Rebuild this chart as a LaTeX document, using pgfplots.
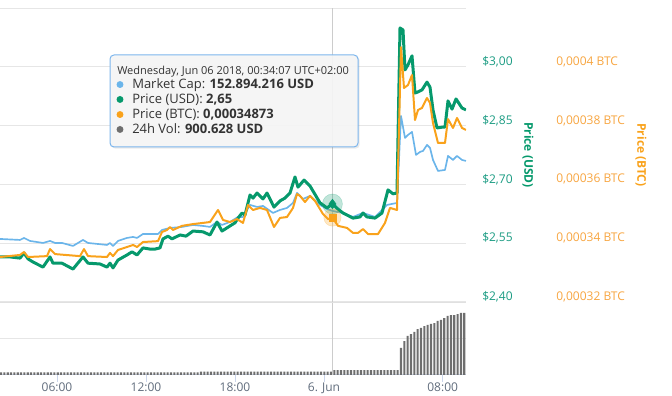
\documentclass[border=0pt]{standalone}
\usepackage{fontspec}
\setmainfont{Open Sans}
\usepackage{pgfplots}
\usepackage{pgfplotstable}
\pgfplotsset{compat=1.18}
\definecolor{usdgreen}{HTML}{06996C}
\definecolor{btcorange}{HTML}{F9A21B}
\definecolor{mcblue}{HTML}{6BB5EA}
\definecolor{volgray}{HTML}{6E6E6E}
\definecolor{gridc}{HTML}{E6E6E6}
\definecolor{sepc}{HTML}{E0E0E0}
\definecolor{axisc}{HTML}{CCD6EB}
\definecolor{ticklab}{HTML}{606C7C}
\definecolor{usdlab}{HTML}{1A9B82}
\definecolor{btclab}{HTML}{F7A540}
\definecolor{crossc}{HTML}{CCCCCC}
\definecolor{tipborder}{HTML}{7CB5EC}
\definecolor{tipfill}{HTML}{F7F7F7}
\definecolor{tiptext}{HTML}{333333}

\pgfplotstableread[row sep=\\]{v\\
0.75\\0.75\\0.75\\0.75\\0.75\\0.75\\0.75\\0.75\\0.75\\0.75\\
0.75\\0.75\\0.75\\0.75\\0.75\\0.75\\0.75\\0.75\\0.75\\0.75\\
0.75\\0.75\\0.75\\0.75\\0.75\\0.75\\0.75\\0.75\\0.75\\0.75\\
0.75\\0.75\\0.75\\0.75\\0.75\\0.75\\0.75\\0.75\\0.75\\0.75\\
0.75\\0.75\\0.75\\0.75\\0.75\\0.75\\0.75\\0.75\\0.75\\0.75\\
0.75\\0.75\\0.75\\0.75\\0.75\\0.75\\0.75\\0.75\\0.75\\0.75\\
0.9\\0.9\\0.9\\0.9\\0.9\\0.9\\0.9\\0.9\\0.9\\0.9\\
0.9\\0.9\\0.9\\0.9\\0.9\\0.9\\0.9\\0.9\\0.9\\0.9\\
0.9\\0.9\\0.9\\0.9\\0.9\\0.9\\0.9\\0.9\\0.9\\0.9\\
0.9\\0.9\\0.9\\0.9\\0.9\\0.9\\0.9\\0.9\\0.9\\0.9\\
1.35\\1.35\\1.35\\1.35\\1.35\\1.35\\1.35\\1.35\\1.35\\1.35\\
1.35\\1.35\\1.35\\1.35\\1.35\\1.35\\1.35\\1.35\\1.35\\1.35\\
7.4\\9.3\\10.7\\11.2\\11.8\\12.6\\12.9\\13.4\\13.7\\14.0\\
14.2\\14.8\\15.1\\15.6\\16.2\\16.4\\16.4\\16.7\\17.0\\17.0\\
}\voltab

\begin{document}
\begin{tikzpicture}
\pgfplotsset{
  base/.style={scale only axis, width=349.5pt, xmin=2.157, xmax=33.573, anchor=south west},
  price/.style={base, height=220.5pt, at={(0pt,70.5pt)}},
}

% ---- volume panel
\begin{axis}[base, height=54.75pt, at={(0pt,15.75pt)}, ymin=0, ymax=20,
  axis x line*=bottom, axis y line*=left,
  y axis line style={draw=none},
  x axis line style={draw=axisc, line width=0.75pt, -},
  xtick={6,12,18,24,32}, xticklabels={06:00,12:00,18:00,{6. Jun},08:00},
  xtick style={draw=axisc, line width=0.75pt}, tick align=outside, major tick length=5.25pt,
  ytick={10}, yticklabels={}, ytick style={draw=none},
  ymajorgrids, grid style={draw=gridc, line width=0.75pt},
  xticklabel style={font=\fontsize{9}{10}\selectfont, text=ticklab, yshift=2.6pt},
]
\addplot[ybar, bar width=1.6pt, fill=volgray, draw=none] table[x expr={2.226+0.2247*\coordindex}, y=v] {\voltab};
\addplot[crossc, line width=0.75pt] coordinates {(24.569,0) (24.569,20)};
\draw[sepc, line width=1.5pt] (rel axis cs:0,1) -- (rel axis cs:1,1);
\end{axis}

% ---- USD grid and labels
\begin{axis}[price, ymin=2.40, ymax=3.15,
  axis x line=none, axis y line*=right, y axis line style={draw=none},
  ytick={2.40,2.55,2.70,2.85,3.00,3.15},
  yticklabels={{\$2,40},{\$2,55},{\$2,70},{\$2,85},{\$3,00},{}},
  ytick style={draw=none}, major tick length=0pt,
  ymajorgrids, grid style={draw=gridc, line width=0.75pt},
  yticklabel style={anchor=west, inner sep=0pt, xshift=12pt, yshift=3.75pt, font=\fontsize{9}{10}\selectfont, text=usdlab},
  ylabel={Price (USD)},
  ylabel style={at={(rel axis cs:1.133,0.5)}, anchor=center, rotate=180, font=\bfseries\fontsize{9}{10}\selectfont, text=usdgreen},
]
\addplot[crossc, line width=0.75pt] coordinates {(24.569,2.40) (24.569,3.15)};
\end{axis}

% ---- market cap (hidden axis)
\begin{axis}[price, ymin=127.4, ymax=209.7, hide axis]
\addplot[mcblue, line width=1.25pt, line join=round] coordinates {
(2.157,145.05) (3.505,144.77) (3.775,145.33) (4.180,144.49) (5.056,143.93) (5.528,144.49) (5.865,143.93) (6.337,143.93) (7.078,143.09) (7.753,144.77) (8.090,143.93) (9.371,143.37) (9.573,143.93) (9.775,143.09) (10.112,144.49) (10.719,145.33) (11.124,145.61) (11.393,145.33) (11.798,146.45) (12.809,146.45) (13.079,147.57) (13.618,148.13) (14.427,148.41) (15.169,148.97) (15.843,148.69) (16.315,148.41) (16.787,149.81) (17.124,148.97) (17.663,149.81) (18.202,151.21) (18.539,151.21) (19.011,154.57) (19.483,154.01) (19.887,154.29) (20.562,152.33) (21.034,153.17) (21.506,153.73) (21.910,155.13) (22.180,157.93) (22.584,156.25) (23.056,157.09) (23.730,154.57) (24.202,153.45) (24.569,152.89) (25.281,152.33) (25.955,151.21) (26.629,152.33) (27.438,151.21) (28.247,154.57) (28.921,155.13) (29.191,179.49) (29.461,173.33) (29.663,174.17) (29.933,175.01) (30.202,168.57) (30.472,169.41) (30.674,169.69) (30.944,171.37) (31.146,170.53) (31.348,167.17) (31.685,164.09) (32.157,164.37) (32.360,168.29) (32.697,167.17) (32.966,168.29) (33.303,167.17) (33.573,166.89)};
\end{axis}

% ---- price USD
\begin{axis}[price, ymin=2.40, ymax=3.15, hide axis]
\addplot[usdgreen, line width=2.25pt, line join=round] coordinates {
(2.157,2.515) (2.831,2.515) (3.505,2.512) (3.775,2.525) (4.045,2.510) (4.382,2.502) (5.056,2.489) (5.528,2.515) (5.730,2.499) (6.337,2.499) (7.078,2.484) (7.753,2.515) (8.090,2.499) (8.899,2.497) (9.371,2.489) (9.573,2.499) (9.775,2.487) (10.112,2.507) (10.719,2.520) (11.056,2.528) (11.393,2.520) (11.798,2.538) (12.270,2.535) (12.607,2.535) (12.944,2.538) (13.146,2.561) (13.483,2.568) (13.753,2.561) (14.292,2.571) (14.697,2.568) (15.169,2.581) (15.843,2.579) (16.315,2.571) (16.787,2.604) (17.124,2.581) (17.663,2.594) (18.000,2.602) (18.202,2.614) (18.472,2.627) (18.674,2.622) (19.011,2.673) (19.213,2.665) (19.483,2.678) (19.887,2.663) (20.157,2.678) (20.629,2.642) (21.034,2.658) (21.371,2.665) (21.708,2.678) (22.045,2.719) (22.247,2.693) (22.652,2.711) (23.056,2.696) (23.730,2.653) (24.202,2.640) (24.569,2.650) (24.944,2.637) (25.281,2.627) (25.955,2.614) (26.427,2.617) (26.629,2.627) (26.899,2.617) (27.438,2.614) (27.910,2.627) (28.315,2.686) (28.652,2.676) (28.921,2.678) (29.124,3.099) (29.326,3.094) (29.461,2.992) (29.663,3.005) (29.933,3.028) (30.135,2.933) (30.337,2.936) (30.607,2.941) (30.944,2.961) (31.146,2.948) (31.348,2.890) (31.618,2.844) (31.955,2.846) (32.157,2.846) (32.360,2.913) (32.630,2.892) (32.899,2.918) (33.303,2.895) (33.573,2.890)};
\addplot[only marks, usdgreen, opacity=0.25, mark=*, mark size=7.5pt] coordinates {(24.569,2.65)};
\addplot[only marks, usdgreen, mark=diamond*, mark size=3.6pt] coordinates {(24.569,2.65)};
\end{axis}

% ---- price BTC
\begin{axis}[price, ymin=0.00032, ymax=0.00042, scaled y ticks=false,
  axis x line=none, axis y line*=right, y axis line style={draw=none},
  ytick={0.00032,0.00034,0.00036,0.00038,0.0004},
  yticklabels={{0,00032 BTC},{0,00034 BTC},{0,00036 BTC},{0,00038 BTC},{0,0004 BTC}},
  ytick style={draw=none}, major tick length=0pt,
  yticklabel style={anchor=west, inner sep=0pt, xshift=67.5pt, yshift=3.75pt, font=\fontsize{9}{10}\selectfont, text=btclab},
  ylabel={Price (BTC)},
  ylabel style={at={(rel axis cs:1.3755,0.5)}, anchor=center, rotate=180, font=\bfseries\fontsize{9}{10}\selectfont, text=btcorange},
]
\addplot[btcorange, line width=1.5pt, line join=round] coordinates {
(2.157,0.0003353) (3.505,0.0003360) (3.775,0.0003370) (4.045,0.0003353) (5.326,0.0003356) (5.528,0.0003380) (5.865,0.0003363) (7.550,0.0003356) (7.820,0.0003380) (8.090,0.0003356) (9.371,0.0003353) (9.573,0.0003367) (9.775,0.0003356) (10.112,0.0003377) (10.719,0.0003387) (11.124,0.0003394) (11.393,0.0003387) (11.798,0.0003404) (12.809,0.0003407) (13.079,0.0003438) (13.416,0.0003445) (13.618,0.0003455) (13.820,0.0003445) (14.427,0.0003459) (15.169,0.0003465) (15.843,0.0003469) (16.315,0.0003472) (16.854,0.0003513) (17.191,0.0003479) (17.663,0.0003472) (18.135,0.0003482) (18.539,0.0003469) (18.876,0.0003530) (19.213,0.0003513) (19.685,0.0003520) (20.157,0.0003513) (20.629,0.0003455) (21.034,0.0003486) (21.506,0.0003489) (21.910,0.0003520) (22.180,0.0003567) (22.382,0.0003561) (22.719,0.0003540) (23.056,0.0003561) (23.393,0.0003544) (23.933,0.0003499) (24.270,0.0003482) (24.569,0.0003487) (24.944,0.0003459) (25.551,0.0003452) (25.955,0.0003435) (26.292,0.0003435) (26.629,0.0003448) (26.966,0.0003431) (27.640,0.0003431) (28.112,0.0003469) (28.449,0.0003520) (28.921,0.0003513) (29.191,0.0004067) (29.393,0.0003928) (29.663,0.0003938) (29.933,0.0003972) (30.135,0.0003819) (30.337,0.0003853) (30.607,0.0003860) (30.944,0.0003894) (31.146,0.0003877) (31.348,0.0003809) (31.685,0.0003741) (32.157,0.0003741) (32.360,0.0003822) (32.697,0.0003792) (32.966,0.0003826) (33.303,0.0003792) (33.573,0.0003785)};
\addplot[only marks, btcorange, opacity=0.25, mark=*, mark size=6.5pt] coordinates {(24.569,0.00034873)};
\addplot[only marks, btcorange, mark=square*, mark size=2.7pt] coordinates {(24.569,0.00034873)};
\end{axis}

% ---- tooltip
\fill[black, opacity=0.08, rounded corners=3pt] (83.5pt,185.5pt) rectangle (269.8pt,254.7pt);
\filldraw[fill=tipfill, fill opacity=0.9, draw=tipborder, line width=0.75pt, rounded corners=3pt] (82.5pt,186.75pt) rectangle (268.5pt,255.75pt);
\node[anchor=base west, inner sep=0pt, text=tiptext, font=\fontsize{8.25}{9}\selectfont] at (87.75pt,241.1pt) {Wednesday, Jun 06 2018, 00:34:07 UTC+02:00};
\fill[mcblue] (90pt,233.6pt) circle (2.6pt);
\fill[usdgreen] (90pt,222.4pt) circle (2.6pt);
\fill[btcorange] (90pt,211.1pt) circle (2.6pt);
\fill[volgray] (90pt,199.9pt) circle (2.6pt);
\node[anchor=base west, inner sep=0pt, text=tiptext, font=\fontsize{9.75}{11}\selectfont] at (99pt,230.25pt) {Market Cap: \textbf{152.894.216 USD}};
\node[anchor=base west, inner sep=0pt, text=tiptext, font=\fontsize{9.75}{11}\selectfont] at (99pt,219pt) {Price (USD): \textbf{2,65}};
\node[anchor=base west, inner sep=0pt, text=tiptext, font=\fontsize{9.75}{11}\selectfont] at (99pt,207.75pt) {Price (BTC): \textbf{0,00034873}};
\node[anchor=base west, inner sep=0pt, text=tiptext, font=\fontsize{9.75}{11}\selectfont] at (99pt,196.5pt) {24h Vol: \textbf{900.628 USD}};

\pgfresetboundingbox
\path[use as bounding box] (0pt,0pt) rectangle (504pt,297pt);
\end{tikzpicture}
\end{document}
